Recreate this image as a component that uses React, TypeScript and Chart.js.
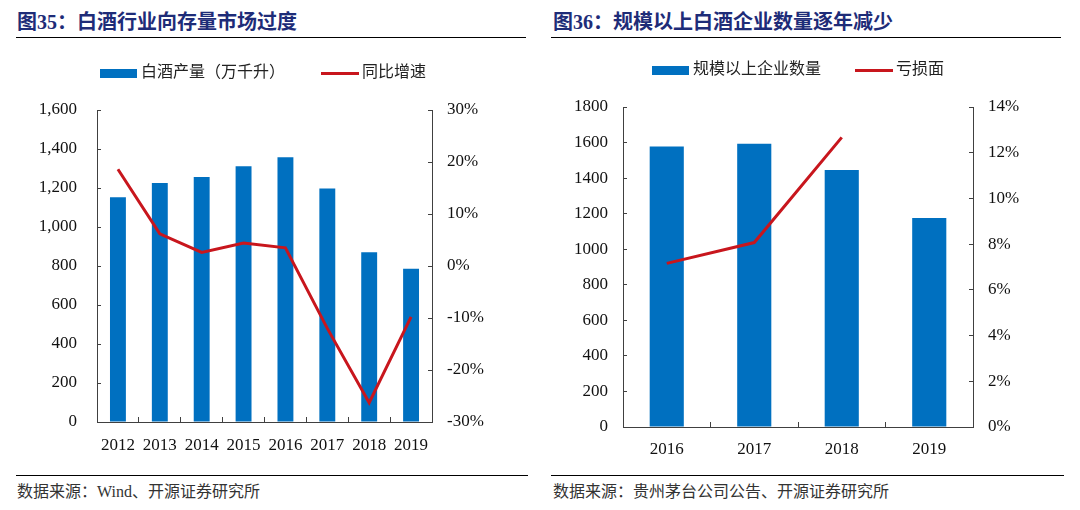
import React, { useEffect, useRef } from "react";
import { Chart, registerables } from "chart.js";

Chart.register(...registerables);

// ---- Data: chart 35 ----
const years35 = ["2012", "2013", "2014", "2015", "2016", "2017", "2018", "2019"];
const output35 = [1153, 1226, 1257, 1312, 1358, 1198, 871, 786]; // 白酒产量（万千升）
const growth35 = [0.186, 0.062, 0.026, 0.044, 0.035, -0.12, -0.263, -0.098]; // 同比增速

// ---- Data: chart 36 ----
const years36 = ["2016", "2017", "2018", "2019"];
const firms36 = [1578, 1593, 1445, 1176]; // 规模以上企业数量
const loss36 = [0.0716, 0.0807, 0.1267, null]; // 亏损面

const title35 = "图35：白酒行业向存量市场过度";
const title36 = "图36：规模以上白酒企业数量逐年减少";
const source35 = "数据来源：Wind、开源证券研究所";
const source36 = "数据来源：贵州茅台公司公告、开源证券研究所";
const legend35 = ["白酒产量（万千升）", "同比增速"];
const legend36 = ["规模以上企业数量", "亏损面"];

const BLUE = "#0070C0";
const RED = "#C8161D";
const AXIS = "#404040";
const TICK = "#111111";
const FONT = '"Liberation Serif", "Noto Sans CJK SC", serif';

function swatch(w: number, h: number, color: string) {
  const c = document.createElement("canvas");
  c.width = w;
  c.height = h;
  const ctx = c.getContext("2d")!;
  ctx.fillStyle = color;
  ctx.fillRect(0, 0, w, h);
  return c;
}

function legendGap(extra: number) {
  return {
    id: "legendGap",
    afterInit(chart: any) {
      const lg = chart.legend;
      if (!lg) return;
      const f = lg.fit;
      lg.fit = function () {
        f.call(this);
        this.height += extra;
      };
    },
  };
}

type Cfg = {
  labels: string[];
  bars: number[];
  line: (number | null)[];
  names: string[];
  yMax: number;
  yStep: number;
  yComma: boolean;
  y1Min: number;
  y1Max: number;
  y1Step: number;
  barPct: number;
  legendPad: number;
  yWidth: number;
  y1Width: number;
  xHeight: number;
  xPad: number;
};

function buildChart(canvas: HTMLCanvasElement, c: Cfg) {
  const barImg = swatch(37, 9, BLUE);
  const lineImg = swatch(38, 3, RED);
  return new Chart(canvas, {
    type: "bar",
    data: {
      labels: c.labels,
      datasets: [
        {
          type: "bar",
          label: c.names[0],
          data: c.bars,
          backgroundColor: BLUE,
          borderWidth: 0,
          barPercentage: c.barPct,
          categoryPercentage: 1,
          yAxisID: "y",
          order: 1,
        },
        {
          type: "line",
          label: c.names[1],
          data: c.line,
          borderColor: RED,
          backgroundColor: RED,
          borderWidth: 3,
          pointRadius: 0,
          tension: 0,
          yAxisID: "y1",
          order: 0,
        },
      ] as any,
    },
    options: {
      responsive: false,
      maintainAspectRatio: false,
      animation: false,
      layout: { padding: 0 },
      plugins: {
        tooltip: { enabled: false },
        legend: {
          display: true,
          position: "top",
          labels: {
            usePointStyle: true,
            pointStyleWidth: 29,
            padding: c.legendPad,
            color: "#222",
            font: { family: FONT, size: 16 },
            sort: (a: any, b: any) => a.datasetIndex - b.datasetIndex,
            generateLabels: (chart: any) => {
              const items = (Chart.defaults.plugins.legend.labels as any).generateLabels(chart);
              items.forEach((it: any) => {
                it.pointStyle = it.datasetIndex === 0 ? barImg : lineImg;
              });
              return items;
            },
          },
        },
      },
      scales: {
        x: {
          type: "category",
          offset: true,
          grid: {
            offset: true,
            drawOnChartArea: false,
            drawTicks: true,
            tickLength: -5,
            color: AXIS,
          },
          border: { display: true, color: AXIS, width: 1 },
          ticks: { color: TICK, padding: c.xPad, font: { family: FONT, size: 17 } },
          afterFit: (s: any) => {
            s.height = c.xHeight;
          },
        },
        y: {
          position: "left",
          min: 0,
          max: c.yMax,
          grid: { drawOnChartArea: false, drawTicks: true, tickLength: -4, color: AXIS },
          border: { display: true, color: AXIS, width: 1 },
          ticks: {
            stepSize: c.yStep,
            color: TICK,
            padding: c.yComma ? 24 : 19,
            font: { family: FONT, size: 17 },
            callback: (v: any) => (c.yComma ? Number(v).toLocaleString("en-US") : String(v)),
          },
          afterFit: (s: any) => {
            s.width = c.yWidth;
          },
        },
        y1: {
          position: "right",
          min: c.y1Min,
          max: c.y1Max,
          grid: { drawOnChartArea: false, drawTicks: true, tickLength: -4, color: AXIS },
          border: { display: true, color: AXIS, width: 1 },
          ticks: {
            stepSize: c.y1Step,
            color: TICK,
            padding: 19,
            font: { family: FONT, size: 17 },
            callback: (v: any) => `${Math.round(Number(v) * 100)}%`,
          },
          afterFit: (s: any) => {
            s.width = c.y1Width;
          },
        },
      },
    } as any,
    plugins: [legendGap(19)],
  });
}

export default function App() {
  const ref1 = useRef<HTMLCanvasElement>(null);
  const ref2 = useRef<HTMLCanvasElement>(null);

  useEffect(() => {
    const c1 = buildChart(ref1.current!, {
      labels: years35,
      bars: output35,
      line: growth35,
      names: legend35,
      yMax: 1600,
      yStep: 200,
      yComma: true,
      y1Min: -0.3,
      y1Max: 0.3,
      y1Step: 0.1,
      barPct: 0.38,
      legendPad: 40,
      yWidth: 97,
      y1Width: 98,
      xHeight: 48,
      xPad: 18,
    });
    const c2 = buildChart(ref2.current!, {
      labels: years36,
      bars: firms36,
      line: loss36,
      names: legend36,
      yMax: 1800,
      yStep: 200,
      yComma: false,
      y1Min: 0,
      y1Max: 0.14,
      y1Step: 0.02,
      barPct: 0.39,
      legendPad: 38,
      yWidth: 83,
      y1Width: 87,
      xHeight: 43,
      xPad: 17,
    });
    return () => {
      c1.destroy();
      c2.destroy();
    };
  }, []);

  const titleStyle: React.CSSProperties = {
    position: "absolute",
    top: 10,
    height: 24,
    lineHeight: "24px",
    fontFamily: FONT,
    fontWeight: "bold",
    fontSize: 20,
    color: "#1E2C78",
    whiteSpace: "nowrap",
  };
  const srcStyle: React.CSSProperties = {
    position: "absolute",
    top: 482,
    height: 20,
    lineHeight: "20px",
    fontFamily: FONT,
    fontSize: 16,
    color: "#333",
    whiteSpace: "nowrap",
  };
  const rule = (left: number, top: number, width: number): React.CSSProperties => ({
    position: "absolute",
    left,
    top,
    width,
    height: 1,
    background: "#000",
  });

  return (
    <div
      style={{
        position: "absolute",
        left: 0,
        top: 0,
        width: 1080,
        height: 510,
        background: "#fff",
        overflow: "hidden",
      }}
    >
      <div style={{ ...titleStyle, left: 17 }}>{title35}</div>
      <div style={{ ...titleStyle, left: 553 }}>{title36}</div>
      <div style={rule(16, 37, 510)} />
      <div style={rule(551, 37, 510)} />
      <canvas
        ref={ref1}
        width={530}
        height={445}
        style={{ position: "absolute", left: 0, top: 25, width: 530, height: 445 }}
      />
      <canvas
        ref={ref2}
        width={520}
        height={446}
        style={{ position: "absolute", left: 540, top: 24, width: 520, height: 446 }}
      />
      <div style={rule(16, 475, 512)} />
      <div style={rule(551, 475, 513)} />
      <div style={{ ...srcStyle, left: 17 }}>{source35}</div>
      <div style={{ ...srcStyle, left: 553 }}>{source36}</div>
    </div>
  );
}
